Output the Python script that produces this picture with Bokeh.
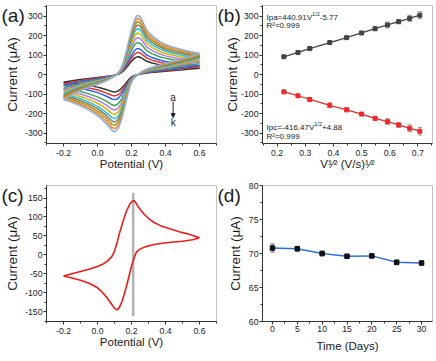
import math
from bokeh.plotting import figure
from bokeh.layouts import gridplot
from bokeh.models import Label, FixedTicker, Arrow, NormalHead
from bokeh.embed import file_html
from bokeh.resources import INLINE

FONT = "Liberation Sans"

# ---------------- data: panel (a) -- outermost CV (k) ----
cv_fwd_x = [-0.2, -0.15, -0.1, -0.05, 0.0, 0.04, 0.07, 0.09, 0.105, 0.12, 0.135, 0.15,
            0.17, 0.19, 0.21, 0.222, 0.232, 0.242, 0.255, 0.27, 0.29, 0.32, 0.35, 0.37,
            0.40, 0.45, 0.50, 0.55, 0.60]
cv_fwd_y = [-128, -102, -82, -64, -49, -36, -23, -13, -4, 8, 25, 55,
            120, 195, 260, 290, 303, 304, 292, 265, 228, 200, 180, 168,
            155, 140, 128, 118, 110]
cv_rev_x = [0.60, 0.55, 0.50, 0.45, 0.40, 0.35, 0.30, 0.27, 0.25, 0.235, 0.22, 0.205,
            0.19, 0.17, 0.155, 0.14, 0.125, 0.11, 0.10, 0.085, 0.07, 0.05, 0.02, 0.0,
            -0.05, -0.1, -0.15, -0.2]
cv_rev_y = [110, 95, 82, 70, 58, 46, 32, 20, 8, -2, -12, -30,
            -60, -130, -185, -235, -270, -288, -292, -285, -270, -250, -225, -210,
            -182, -160, -142, -128]
curve_names = ["a", "b", "c", "d", "e", "f", "g", "h", "i", "j", "k"]
curve_colors = ["#333333", "#e8322b", "#2b65e8", "#3aa655", "#b57ae8", "#d9b400",
                "#20c4df", "#8c7b5a", "#a99021", "#f0862a", "#86b0e3"]

# ---------------- data: panel (b) ----------------
sqrt_v = [0.224, 0.274, 0.316, 0.387, 0.447, 0.500, 0.548, 0.592, 0.632, 0.671, 0.707]
ipa = [92, 114, 134, 165, 190, 214, 236, 255, 272, 289, 305]
ipa_err = [4, 5, 6, 10, 8, 6, 10, 15, 10, 16, 18]
ipc = [-88, -108, -127, -157, -180, -202, -224, -241, -258, -275, -290]
ipc_err = [4, 4, 7, 12, 10, 8, 10, 15, 12, 18, 20]
eq_a = ("Ipa=440.91V", "1/2", "-5.77")
eq_c = ("Ipc=-416.47V", "1/2", "+4.88")
r2_text = "R\u00b2=0.999"

# ---------------- data: panel (c) ----------------
c_fwd_x = [-0.2, -0.15, -0.1, -0.05, 0.0, 0.03, 0.06, 0.085, 0.10, 0.115, 0.13, 0.15,
           0.17, 0.19, 0.205, 0.213, 0.225, 0.24, 0.27, 0.30, 0.33, 0.37, 0.43, 0.48,
           0.525, 0.56, 0.6]
c_fwd_y = [-56, -50, -44, -38, -31, -25, -16, -4, 10, 32, 58, 88,
           115, 134, 142, 143, 138, 126, 109, 96, 86, 77, 68, 61,
           56, 51, 45]
c_rev_x = [0.6, 0.56, 0.5, 0.43, 0.37, 0.32, 0.28, 0.25, 0.23, 0.22, 0.21, 0.2,
           0.19, 0.175, 0.16, 0.145, 0.13, 0.118, 0.105, 0.09, 0.07, 0.05, 0.02, 0.0,
           -0.05, -0.1, -0.15, -0.2]
c_rev_y = [45, 40, 36, 33, 30, 26, 21, 15, 8, -2, -15, -30,
           -48, -75, -100, -122, -138, -145, -143, -135, -122, -110, -95, -87,
           -75, -67, -61, -56]
c_marker_x = 0.21
c_marker_y = (-162, 164)

# ---------------- data: panel (d) ----------------
days = [0, 5, 10, 15, 20, 25, 30]
d_current = [70.8, 70.7, 70.0, 69.6, 69.65, 68.7, 68.6]
d_err = [0.6, 0.35, 0.35, 0.2, 0.25, 0.35, 0.3]

# ---------------- ticks / labels ----------------
pot_ticks = [-0.2, 0.0, 0.2, 0.4, 0.6]
pot_minor = [-0.3, -0.1, 0.1, 0.3, 0.5, 0.7]
cur_ticks_ab = [-300, -200, -100, 0, 100, 200, 300]
cur_minor_ab = [-350, -250, -150, -50, 50, 150, 250, 350]
sv_ticks = [0.2, 0.3, 0.4, 0.5, 0.6, 0.7]
sv_minor = [0.15, 0.25, 0.35, 0.45, 0.55, 0.65, 0.75]
cur_ticks_c = [-150, -100, -50, 0, 50, 100, 150]
cur_minor_c = [-175, -125, -75, -25, 25, 75, 125, 175]
day_ticks = [0, 5, 10, 15, 20, 25, 30]
day_minor = [2.5, 7.5, 12.5, 17.5, 22.5, 27.5]
d_yticks = [60, 65, 70, 75, 80]
d_yminor = [62.5, 67.5, 72.5, 77.5]
current_label = "Current (\u03bcA)"
potential_label = "Potential (V)"
sqrtv_label = "V\u00b9\u2044\u00b2 (V/s)\u00b9\u2044\u00b2"
time_label = "Time (Days)"

# ---------------- helpers ----------------
W = {'V': .667, '(': .333, ')': .333, '/': .278, 's': .5, ' ': .278, '1': .556, '2': .556,
     'I': .278, 'p': .556, 'a': .556, 'c': .5, '=': .584, '4': .556, '0': .556, '.': .278,
     '9': .556, '-': .333, '5': .556, '7': .556, '6': .556, '+': .584, '8': .556, 'R': .722}


def tw(s, size):
    return sum(W.get(ch, 0.556) for ch in s) * size


FRAME = {}


def make_fig(key, w, h, l, r, t, b, xr, yr, xt, xm, yt, ym, xlab, ylab):
    p = figure(width=w, height=h, x_range=xr, y_range=yr, output_backend="svg",
               toolbar_location=None, min_border_left=l, min_border_right=r,
               min_border_top=t, min_border_bottom=b)
    p.xgrid.visible = False
    p.ygrid.visible = False
    p.outline_line_color = "#c4c4c4"
    p.outline_line_width = 1
    p.xaxis.ticker = FixedTicker(ticks=xt, minor_ticks=xm)
    p.yaxis.ticker = FixedTicker(ticks=yt, minor_ticks=ym)
    p.xaxis.major_label_overrides = {v: xlab(v) for v in xt}
    p.yaxis.major_label_overrides = {v: ylab(v) for v in yt}
    for ax in (p.xaxis[0], p.yaxis[0]):
        ax.axis_line_color = "#333333"
        ax.major_tick_line_color = "#333333"
        ax.minor_tick_line_color = "#333333"
        ax.major_tick_out = 3
        ax.major_tick_in = 0
        ax.minor_tick_out = 2
        ax.minor_tick_in = 0
        ax.major_label_text_font = FONT
        ax.major_label_text_font_size = "8.7px"
        ax.major_label_text_color = "#222222"
        ax.axis_label_text_font = FONT
        ax.axis_label_text_font_style = "normal"
        ax.axis_label_text_color = "#1a1a1a"
    p.xaxis.major_label_standoff = 3
    p.yaxis.major_label_standoff = 1
    p.xaxis.axis_label_text_font_size = "11.5px"
    p.yaxis.axis_label_text_font_size = "13.5px"
    p.title.text_font = FONT
    p.title.text_font_style = "normal"
    p.title.text_font_size = "19px"
    p.title.text_color = "#1a1a1a"
    p.title.align = "left"
    FRAME[key] = (w - l - r, h - t - b)
    return p


def put(p, key, fx, fy, text, size, align="left", baseline="middle", color="#1a1a1a"):
    fw, fh = FRAME[key]
    xr, yr = p.x_range, p.y_range
    x = xr.start + fx * (xr.end - xr.start) / fw
    y = yr.end - fy * (yr.end - yr.start) / fh
    p.add_layout(Label(x=x, y=y, text=text, text_font=FONT, text_font_size=f"{size}px",
                       text_align=align, text_baseline=baseline, text_color=color))


def rich(p, key, fx, fy, segs, color="#1a1a1a"):
    x0 = fx
    for t, s, r in segs:
        put(p, key, x0, fy - r, t, s, baseline="alphabetic", color=color)
        x0 += tw(t, s)


def panel_letter(p, text, offset=-45, standoff=-40):
    p.title.text = text
    p.title.offset = offset
    p.title.standoff = standoff
    p.title.vertical_align = "bottom"


one_dec = lambda v: "%.1f" % v
integer = lambda v: "%d" % v

# ---------------- panel (a) ----------------
pa = make_fig("a", 218, 178, 46, 2, 5, 35, (-0.3, 0.7), (-353, 355),
              pot_ticks, pot_minor, cur_ticks_ab, cur_minor_ab, one_dec, integer)
for i, name in enumerate(curve_names):
    sf = ipa[i] / ipa[-1]
    sr = ipc[i] / ipc[-1]
    xs = cv_fwd_x + cv_rev_x
    ys = [v * sf for v in cv_fwd_y] + [v * sr for v in cv_rev_y]
    pa.line(xs, ys, line_color=curve_colors[i], line_width=1.5)
pa.add_layout(Label(x=0.445, y=-118, text="a", text_font=FONT, text_font_size="10px",
                    text_align="center", text_baseline="middle", text_color="#222222"))
pa.add_layout(Label(x=0.445, y=-247, text="k", text_font=FONT, text_font_size="10px",
                    text_align="center", text_baseline="middle", text_color="#222222"))
pa.add_layout(Arrow(end=NormalHead(size=4, fill_color="#222222", line_color="#222222"),
                    x_start=0.445, y_start=-138, x_end=0.445, y_end=-220,
                    line_color="#222222", line_width=1))
pa.xaxis.axis_label = potential_label
pa.yaxis.axis_label = current_label
pa.xaxis.axis_label_standoff = -1
pa.yaxis.axis_label_standoff = 2
panel_letter(pa, "(a)")

# ---------------- panel (b) ----------------
pb = make_fig("b", 218, 178, 44, 4, 5, 35, (0.148, 0.752), (-353, 355),
              sv_ticks, sv_minor, cur_ticks_ab, cur_minor_ab, one_dec, integer)
cap = 0.008
for ys, es, col in ((ipa, ipa_err, "#444444"), (ipc, ipc_err, "#ee2a2a")):
    lo = [y - e for y, e in zip(ys, es)]
    hi = [y + e for y, e in zip(ys, es)]
    pb.segment(sqrt_v, lo, sqrt_v, hi, line_color="#9a9a9a", line_width=1)
    pb.segment([x - cap for x in sqrt_v], hi, [x + cap for x in sqrt_v], hi,
               line_color="#9a9a9a", line_width=1)
    pb.segment([x - cap for x in sqrt_v], lo, [x + cap for x in sqrt_v], lo,
               line_color="#9a9a9a", line_width=1)
    pb.line(sqrt_v, ys, line_color=col, line_width=1.3)
    pb.scatter(sqrt_v, ys, marker="square", size=4, fill_color=col, line_color=col)
rich(pb, "b", 4, 11.8, [(eq_a[0], 8, 0), (eq_a[1], 5.5, 3), (eq_a[2], 8, 0)])
put(pb, "b", 4, 20, r2_text, 8)
rich(pb, "b", 4, 121.8, [(eq_c[0], 8, 0), (eq_c[1], 5.5, 3), (eq_c[2], 8, 0)])
put(pb, "b", 4, 131, r2_text, 8)
pb.xaxis.axis_label = sqrtv_label
pb.yaxis.axis_label = current_label
pb.xaxis.axis_label_standoff = -1
pb.yaxis.axis_label_standoff = -2
panel_letter(pb, "(b)")

# ---------------- panel (c) ----------------
pc = make_fig("c", 218, 183, 46, 2, 5, 40, (-0.3, 0.7), (-176, 183),
              pot_ticks, pot_minor, cur_ticks_c, cur_minor_c, one_dec, integer)
pc.segment([c_marker_x], [c_marker_y[0]], [c_marker_x], [c_marker_y[1]],
           line_color="#b4b4b4", line_width=2.5)
pc.line(c_fwd_x + c_rev_x, c_fwd_y + c_rev_y, line_color="#ee1c1c", line_width=1.6)
pc.xaxis.axis_label = potential_label
pc.yaxis.axis_label = current_label
pc.xaxis.axis_label_standoff = -1
pc.yaxis.axis_label_standoff = 2
panel_letter(pc, "(c)")

# ---------------- panel (d) ----------------
pd_ = make_fig("d", 218, 183, 44, 4, 7, 36, (-2, 32.2), (60, 80),
               day_ticks, day_minor, d_yticks, d_yminor, integer, integer)
dcap = 0.45
lo = [y - e for y, e in zip(d_current, d_err)]
hi = [y + e for y, e in zip(d_current, d_err)]
pd_.segment(days, lo, days, hi, line_color="#777777", line_width=1)
pd_.segment([x - dcap for x in days], hi, [x + dcap for x in days], hi,
            line_color="#777777", line_width=1)
pd_.segment([x - dcap for x in days], lo, [x + dcap for x in days], lo,
            line_color="#777777", line_width=1)
pd_.line(days, d_current, line_color="#2f6fe0", line_width=1.5)
pd_.scatter(days, d_current, marker="square", size=4.5, fill_color="#111111",
            line_color="#111111")
pd_.xaxis.axis_label = time_label
pd_.yaxis.axis_label = current_label
pd_.xaxis.major_label_standoff = 1
pd_.xaxis.axis_label_standoff = 5
pd_.yaxis.axis_label_standoff = 3
panel_letter(pd_, "(d)")

grid = gridplot([[pa, pb], [pc, pd_]], toolbar_location=None)
open("out.html", "w").write(file_html(grid, INLINE))
